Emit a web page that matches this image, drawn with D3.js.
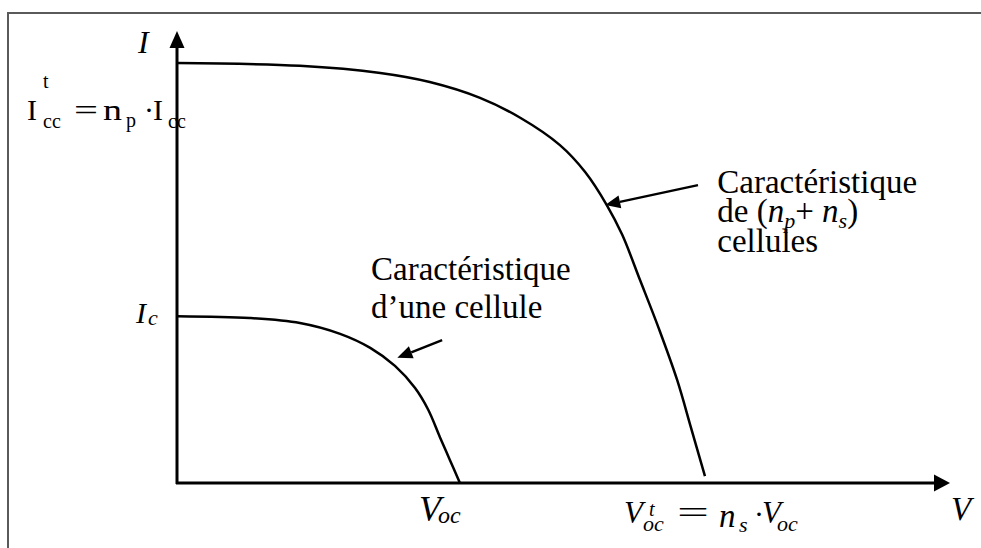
<!DOCTYPE html>
<html>
<head>
<meta charset="utf-8">
<script src="https://cdn.jsdelivr.net/npm/d3@7"></script>
<style>
  body { margin: 0; background: #fff; }
  svg { display: block; }
</style>
</head>
<body>
<svg id="chart" width="981" height="548"></svg>
<script>
// I–V characteristics, both axes in arbitrary units (0–100)
const moduleV = [0, 15.9, 26.3, 32.7, 39.2, 44.4, 49.5, 52.8, 55.6, 57.6, 59.9, 62.35, 64.7, 66.5, 68.3];
const moduleI = [92.9, 92.3, 90.7, 88.7, 85.2, 80.8, 74.8, 68.8, 61.5, 54.9, 44.9, 34.1, 22.8, 12.2, 1.5];
const cellV = [0, 9.4, 15.9, 21.1, 25.0, 28.2, 30.8, 32.5, 34.0, 35.3, 36.6];
const cellI = [36.9, 36.5, 35.4, 33.0, 29.9, 25.9, 21.0, 16.2, 10.2, 5.1, 0];

// key values marked on the axes
const Voc = 36.6, VocT = 68.3;
const Ic = 36.9, IccT = 92.9;

// annotation arrows: [tail, head] in data units
const cellArrowV = [34.3, 28.5], cellArrowI = [31.6, 27.7];
const moduleArrowV = [67.4, 55.4], moduleArrowI = [65.9, 61.5];

const FONT = '"Liberation Serif"';
const svg = d3.select("#chart");
const x = d3.scaleLinear().domain([0, 100]).range([177, 950]);
const y = d3.scaleLinear().domain([0, 100]).range([483, 31]);

// picture frame (top and left edges)
svg.append("path")
  .attr("d", "M8,548 V13 H981")
  .attr("fill", "none").attr("stroke", "#5a5a5a").attr("stroke-width", 2);

// axes with arrow heads
svg.append("line").attr("x1", x(0) - 1).attr("x2", x(100) - 12)
  .attr("y1", y(0)).attr("y2", y(0)).attr("stroke", "#000").attr("stroke-width", 3);
svg.append("line").attr("x1", x(0)).attr("x2", x(0))
  .attr("y1", y(0) + 1).attr("y2", y(100) + 12).attr("stroke", "#000").attr("stroke-width", 3);
svg.append("path")
  .attr("d", `M${x(100)},${y(0)} L${x(100) - 16},${y(0) - 8.5} L${x(100) - 16},${y(0) + 8.5} Z`)
  .attr("fill", "#000");
svg.append("path")
  .attr("d", `M${x(0)},${y(100)} L${x(0) - 7.5},${y(100) + 17} L${x(0) + 7.5},${y(100) + 17} Z`)
  .attr("fill", "#000");

// curves
const line = d3.line().x(d => x(d[0])).y(d => y(d[1])).curve(d3.curveCatmullRom.alpha(0.5));
svg.append("path").datum(d3.zip(moduleV, moduleI)).attr("d", line)
  .attr("fill", "none").attr("stroke", "#000").attr("stroke-width", 2.5);
svg.append("path").datum(d3.zip(cellV, cellI)).attr("d", line)
  .attr("fill", "none").attr("stroke", "#000").attr("stroke-width", 2.5);

// annotation arrows
function arrow(vs, is) {
  const x0 = x(vs[0]), y0 = y(is[0]), x1 = x(vs[1]), y1 = y(is[1]);
  const a = Math.atan2(y1 - y0, x1 - x0), L = 15, W = 6.5;
  const bx = x1 - L * Math.cos(a), by = y1 - L * Math.sin(a);
  svg.append("line").attr("x1", x0).attr("y1", y0).attr("x2", bx).attr("y2", by)
    .attr("stroke", "#000").attr("stroke-width", 2.5);
  svg.append("path")
    .attr("d", `M${x1},${y1} L${bx - W * Math.sin(a)},${by + W * Math.cos(a)} L${bx + W * Math.sin(a)},${by - W * Math.cos(a)} Z`)
    .attr("fill", "#000");
}
arrow(cellArrowV, cellArrowI);
arrow(moduleArrowV, moduleArrowI);

function txt(px, py, s, size, italic, width) {
  const t = svg.append("text").attr("x", px).attr("y", py)
    .attr("font-family", FONT).attr("font-size", size).attr("fill", "#000").text(s);
  if (italic) t.attr("font-style", "italic");
  if (width) t.attr("textLength", width).attr("lengthAdjust", "spacingAndGlyphs");
  return t;
}

// axis titles
txt(x(0) - 39, y(100) + 22, "I", 32, true);
txt(x(100) + 1, y(0) + 37, "V", 33, true);

// current marks
txt(x(0) - 41, y(Ic) + 7, "I", 30, true);
txt(x(0) - 29, y(Ic) + 9, "c", 22, true);

txt(x(0) - 150, y(IccT) + 57, "I", 30);
txt(x(0) - 134, y(IccT) + 25, "t", 20);
txt(x(0) - 134, y(IccT) + 65, "cc", 20);
txt(x(0) - 103, y(IccT) + 57, "=", 30, false, 24);
txt(x(0) - 74, y(IccT) + 57, "n", 30, false, 19);
txt(x(0) - 51, y(IccT) + 64, "p", 20);
txt(x(0) - 33, y(IccT) + 57, "·", 30);
txt(x(0) - 24, y(IccT) + 57, "I", 30);
txt(x(0) - 9, y(IccT) + 65, "cc", 20);

// voltage marks
txt(x(Voc) - 41, y(0) + 38, "V", 36, true);
txt(x(Voc) - 22, y(0) + 40, "oc", 24, true);

txt(x(VocT) - 81, y(0) + 40, "V", 31, true);
txt(x(VocT) - 56, y(0) + 33, "t", 20, true);
txt(x(VocT) - 62, y(0) + 48, "oc", 22, true);
txt(x(VocT) - 28, y(0) + 40, "=", 32, false, 32);
txt(x(VocT) + 14, y(0) + 44, "n", 33, true);
txt(x(VocT) + 34, y(0) + 49, "s", 22, true);
txt(x(VocT) + 49, y(0) + 41, "·", 30);
txt(x(VocT) + 57, y(0) + 40, "V", 31, true);
txt(x(VocT) + 72, y(0) + 48, "oc", 22, true);

// annotation texts
const cx = x(25.1), cy = y(44.9);
txt(cx, cy, "Caractéristique", 33);
txt(cx, cy + 38, "d’une cellule", 33);

const mx = x(69.9), my = y(64.2);
txt(mx, my, "Caractéristique", 33);
const l2 = txt(mx, my + 29, "", 33);
l2.append("tspan").text("de (");
l2.append("tspan").attr("font-style", "italic").text("n");
l2.append("tspan").attr("font-style", "italic").attr("font-size", 22).attr("dy", 6).text("p");
l2.append("tspan").attr("dy", -6).text("+ ");
l2.append("tspan").attr("font-style", "italic").text("n");
l2.append("tspan").attr("font-style", "italic").attr("font-size", 22).attr("dy", 6).text("s");
l2.append("tspan").attr("dy", -6).text(")");
txt(mx, my + 59, "cellules", 33);
</script>
</body>
</html>
